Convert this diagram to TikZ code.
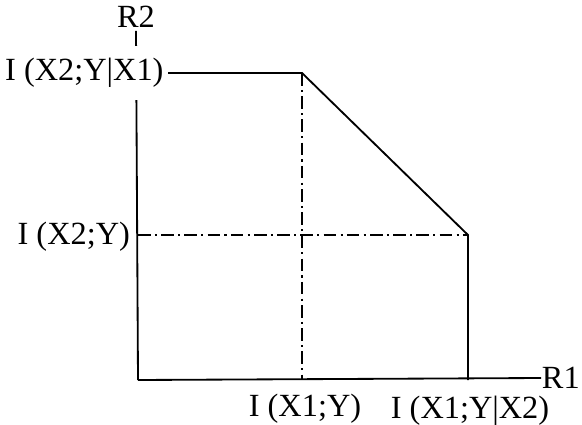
\documentclass[tikz,border=0pt]{standalone}
\usepackage{fontspec}
\setmainfont{Liberation Serif}
\usetikzlibrary{positioning}
\tikzset{
  axisline/.style={line width=1.3pt},
  boundline/.style={line width=1.3pt},
  guideline/.style={line width=1.1pt, dash pattern=on 9pt off 3pt on 1.5pt off 3pt},
  ratelabel/.style={font=\fontsize{23}{27}\selectfont, inner sep=2pt}
}
\begin{document}
\begin{tikzpicture}[x=0.025cm, y=-0.025cm]
\useasboundingbox (0,0) rectangle (582,425);

% Corner points of the region
\coordinate (O) at (138,380);
\coordinate (A) at (302,73);
\coordinate (B) at (468,235);
\coordinate (Ax) at (302,380);
\coordinate (Bx) at (468,380);
\coordinate (By) at (138,235);

% Axes
\node[ratelabel] (lblRtwo) at (136,17) {R2};
\node[ratelabel, anchor=west, inner sep=0.5pt] (lblRone) at (541,378) {R1};
\draw[axisline] (O) -- (lblRtwo.south);
\draw[axisline] (O) -- (lblRone.west);

% Axis labels
\node[ratelabel, fill=white, anchor=east, inner xsep=3pt, inner ysep=9pt] (lblTop) at (168,73) {I (X2;Y|X1)};
\node[ratelabel, anchor=east] (lblMid) at (133,237) {I (X2;Y)};
\node[ratelabel] (lblXone) at (305,409) {I (X1;Y)};
\node[ratelabel] (lblXtwo) at (470,411) {I (X1;Y|X2)};

% Guide lines
\draw[guideline] (A) -- (Ax);
\draw[guideline] (By) -- (B);

% Boundary of the rate region
\draw[boundline] (lblTop.east) -- (A) -- (B) -- (Bx);

\end{tikzpicture}
\end{document}
